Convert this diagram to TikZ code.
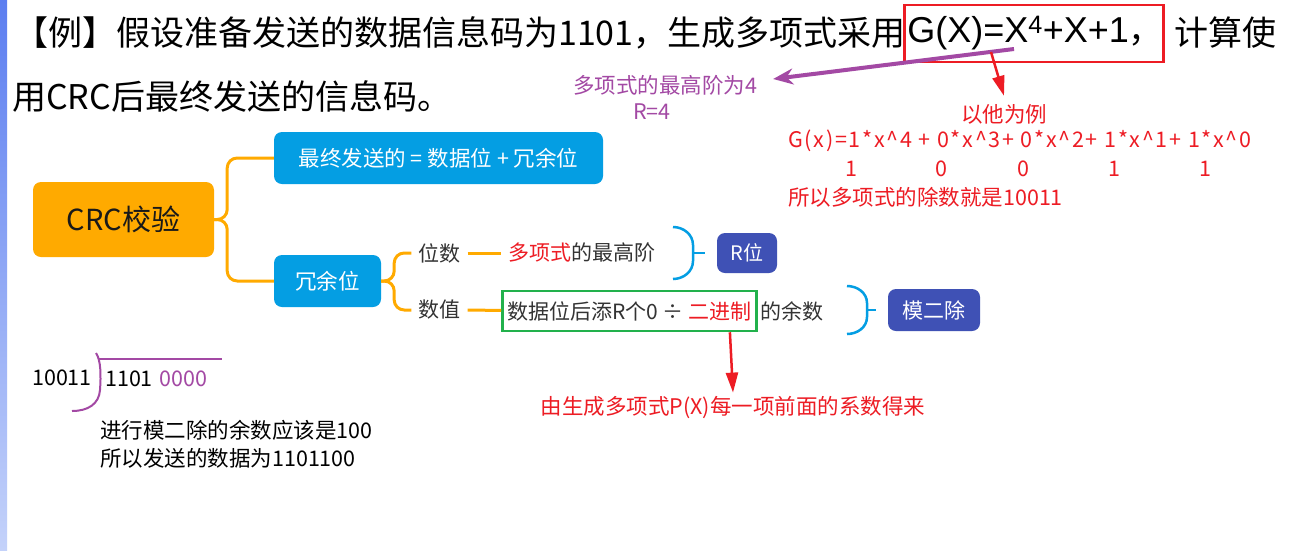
\documentclass[tikz,border=0pt]{standalone}
\usepackage{fontspec}
\setmainfont{Noto Sans CJK SC}
\newfontfamily\formulafont{Liberation Sans}
\newfontfamily\spacedfont[LetterSpace=8]{Noto Sans CJK SC}
\usepackage{tikz}
\usetikzlibrary{arrows.meta, positioning}
\definecolor{barblue}{RGB}{92,126,240}
\definecolor{barlight}{RGB}{196,210,250}
\definecolor{notered}{RGB}{237,28,36}
\definecolor{notepurple}{RGB}{163,73,164}
\definecolor{crcorange}{RGB}{255,170,0}
\definecolor{mapblue}{RGB}{4,158,227}
\definecolor{leafblue}{RGB}{63,81,181}
\definecolor{boxgreen}{RGB}{34,177,76}
\definecolor{maptext}{RGB}{51,51,51}

\begin{document}
\begin{tikzpicture}[
  x = 1pt, y = -1pt,
  title/.style = {font=\fontsize{34}{40}\selectfont, inner sep=0pt, anchor=west},
  note/.style = {font=\fontsize{21.5}{28}\selectfont, inner sep=0pt},
  lbl/.style = {font=\fontsize{21}{26}\selectfont, text=maptext, inner xsep=7pt, inner ysep=0pt},
  rootbox/.style = {
    rectangle, rounded corners=8pt, fill=crcorange,
    minimum width=181pt, minimum height=75pt,
    font=\fontsize{29}{32}\selectfont, text=black!90
  },
  topic/.style = {
    rectangle, rounded corners=8pt, fill=mapblue, text=white,
    minimum height=52pt, font=\fontsize{21.5}{26}\selectfont
  },
  leaf/.style = {
    rectangle, rounded corners=8pt, fill=leafblue, text=white,
    font=\fontsize{20}{24}\selectfont
  },
  link/.style = {draw=crcorange, line width=3pt, rounded corners=10pt},
  brace/.style = {draw=mapblue, line width=2.5pt},
  parr/.style = {-{Stealth[length=20pt, width=16pt]}, draw=notepurple, fill=notepurple, line width=4pt},
  rarr/.style = {-{Triangle[length=20pt, width=12pt]}, draw=notered, fill=notered, line width=2.5pt}
]
\useasboundingbox (0,0) rectangle (1297,550);
\fill[white] (0,0) rectangle (1297,550);
\shade[top color=barblue, bottom color=barlight] (0,0) rectangle (7,550);

% question
\node[title] (q1) at (14,33) {【例】假设准备发送的数据信息码为1101，生成多项式采用};
\node[title, draw=notered, line width=2.5pt, inner xsep=3pt,
      text width=253pt, align=left, minimum height=57pt] (gx) at (903,33.5)
      {{\formulafont\fontsize{36}{40}\selectfont G(X)=X\textsuperscript{4}+X+1}，};
\node[title, anchor=east] (q2) at (1277,33) {计算使};
\node[title] (q3) at (12,96) {用CRC后最终发送的信息码。};

% notes on the polynomial
\node[note, text=notepurple] (deg) at (665,85) {多项式的最高阶为4};
\node[note, text=notepurple] (rdeg) at (652,112) {R=4};
\coordinate (pstart) at (1014,49);
\draw[parr] (pstart) -- ([xshift=16pt, yshift=6pt]deg.east);

\node[note, text=notered] (eg) at (1004,114) {以他为例};
\coordinate (rstart) at (991,52);
\draw[rarr] (rstart) -- ([yshift=8pt]eg.north);

\node[note, text=notered, anchor=west] (gxline) at (788,141)
  {\spacedfont G(x)=1*x\textasciicircum{}4 + 0*x\textasciicircum{}3+ 0*x\textasciicircum{}2+ 1*x\textasciicircum{}1+ 1*x\textasciicircum{}0};
\foreach \d/\px [count=\i] in {1/851, 0/941, 0/1023, 1/1114, 1/1205}
  \node[note, text=notered] (c\i) at (\px,169) {\d};
\node[note, text=notered, anchor=west] (divisor) at (788,197) {所以多项式的除数就是10011};

% mind map
\node[rootbox] (crc) at (123.5,219.5) {CRC校验};
\node[topic, minimum width=329pt] (sent) at (438.5,158) {最终发送的 = 数据位 + 冗余位};
\node[topic, minimum width=107pt] (spare) at (327.5,281) {冗余位};
\draw[link] (crc.east) -- ++(13,0) |- (sent.west);
\draw[link] (crc.east) -- ++(13,0) |- (spare.west);

\node[lbl] (bits) at (439.5,253) {位数};
\node[lbl] (val) at (439.5,310) {数值};
\draw[link] (spare.east) -- ++(13,0) |- (bits.west);
\draw[link] (spare.east) -- ++(13,0) |- (val.west);

\node[lbl, anchor=west] (poly) at (501,253) {{\color{notered}多项式}的最高阶};
\node[lbl, anchor=west, draw=boxgreen, line width=2.5pt, inner xsep=5pt,
      minimum height=40pt] (rule) at (501,311)
      {数据位后添R个0 ÷ {\color{notered}二进制}};
\node[lbl, anchor=west, inner xsep=2pt] (rem) at (rule.east) {的余数};
\draw[link] (bits) -- (poly);
\draw[link] (val) -- (rule);

\draw[brace] (673,227) to[out=0, in=90] (693,245) -- (693,261) to[out=-90, in=0] (673,279);
\draw[brace] (693,253) -- (705,253);
\node[leaf, minimum width=60pt, minimum height=40pt] (rbit) at (747,253) {R位};

\draw[brace] (847,286) to[out=0, in=90] (867,303) -- (867,317) to[out=-90, in=0] (847,334);
\draw[brace] (867,310) -- (876,310);
\node[leaf, minimum width=92pt, minimum height=42pt, font=\fontsize{21}{26}\selectfont] (mod) at (934,310) {模二除};

\node[note, text=notered] (src) at (733,408) {由生成多项式P(X)每一项前面的系数得来};
\draw[rarr] ([xshift=-28pt]rule.south east) -- ([yshift=4pt]src.north);

% long division
\node[note] (dvs) at (62,378) {10011};
\node[note, anchor=west] (dvd) at (105,379) {1101\hspace{7pt}{\color{notepurple}0000}};
\draw[notepurple, line width=2pt] (96,353) .. controls (101,360) and (101,376) .. (100,390)
  .. controls (99,404) and (88,411) .. (72,411);
\draw[notepurple, line width=2pt] (98,359) -- (222,359);
\node[note, anchor=west, align=left] (res) at (100,444)
  {进行模二除的余数应该是100\\所以发送的数据为1101100};
\end{tikzpicture}
\end{document}
